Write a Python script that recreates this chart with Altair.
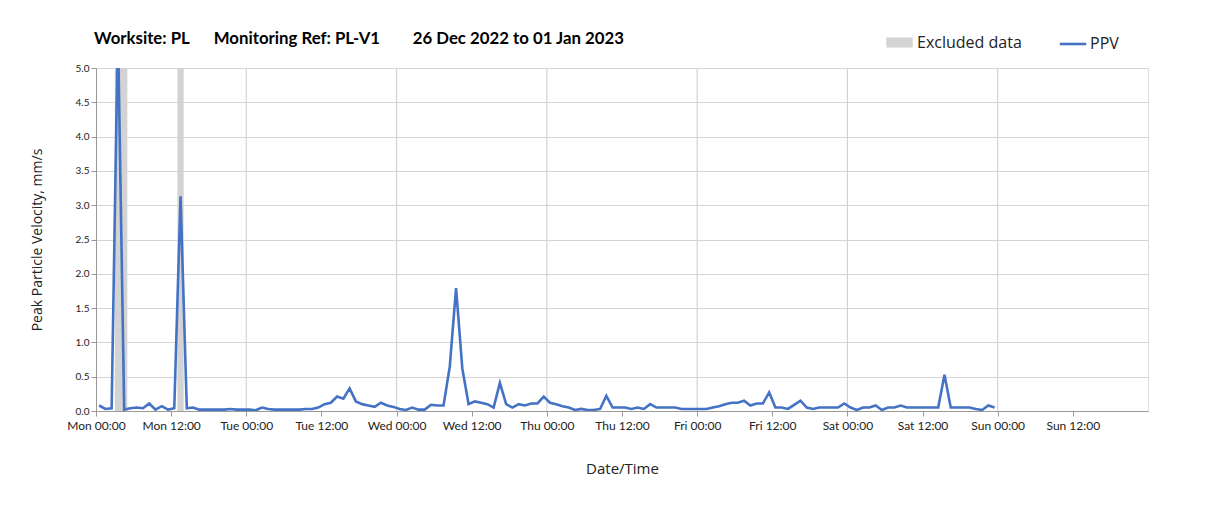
import altair as alt
import pandas as pd

# Hourly PPV readings (mm/s), first reading Mon 26 Dec 2022 00:30
ppv = [
    0.08, 0.03, 0.04, 5.6, 0.02, 0.04, 0.05, 0.04, 0.11, 0.02, 0.07, 0.02,
    0.04, 3.13, 0.04, 0.05, 0.02, 0.02, 0.02, 0.02, 0.02, 0.03, 0.02, 0.02,
    0.02, 0.01, 0.05, 0.03, 0.02, 0.02, 0.02, 0.02, 0.02, 0.03, 0.03, 0.05,
    0.10, 0.12, 0.21, 0.18, 0.33, 0.14, 0.10, 0.08, 0.06, 0.12, 0.08, 0.06,
    0.03, 0.015, 0.05, 0.02, 0.02, 0.09, 0.08, 0.08, 0.65, 1.79, 0.62, 0.10,
    0.14, 0.12, 0.10, 0.05, 0.41, 0.10, 0.05, 0.10, 0.08, 0.11, 0.11, 0.21,
    0.12, 0.10, 0.07, 0.05, 0.015, 0.03, 0.015, 0.015, 0.03, 0.22, 0.05, 0.05,
    0.05, 0.03, 0.05, 0.03, 0.10, 0.05, 0.05, 0.05, 0.05, 0.03, 0.03, 0.03,
    0.03, 0.03, 0.05, 0.07, 0.10, 0.12, 0.12, 0.15, 0.08, 0.11, 0.11, 0.27,
    0.05, 0.05, 0.03, 0.09, 0.15, 0.05, 0.03, 0.05, 0.05, 0.05, 0.05, 0.11,
    0.05, 0.015, 0.05, 0.05, 0.08, 0.015, 0.05, 0.05, 0.08, 0.05, 0.05, 0.05,
    0.05, 0.05, 0.05, 0.53, 0.05, 0.05, 0.05, 0.05, 0.03, 0.015, 0.08, 0.05,
]
times = pd.date_range("2022-12-26 00:30", periods=len(ppv), freq="h")

excluded_start = ["2022-12-26T03:00:00", "2022-12-26T13:00:00"]
excluded_end = ["2022-12-26T05:00:00", "2022-12-26T14:00:00"]

day_lines = ["2022-12-27T00:00:00", "2022-12-28T00:00:00", "2022-12-29T00:00:00",
             "2022-12-30T00:00:00", "2022-12-31T00:00:00", "2023-01-01T00:00:00"]

tick_stamps = pd.date_range("2022-12-26 00:00", "2023-01-01 12:00", freq="12h")
tick_values = [alt.DateTime(year=t.year, month=t.month, date=t.day, hours=t.hour)
               for t in tick_stamps]
x_domain = [alt.DateTime(year=2022, month=12, date=26, hours=0),
            alt.DateTime(year=2023, month=1, date=2, hours=0)]

line_df = pd.DataFrame({
    "time": [t.strftime("%Y-%m-%dT%H:%M:%S") for t in times],
    "ppv": ppv,
    "series": "PPV",
})
excl_df = pd.DataFrame({"start": excluded_start, "end": excluded_end,
                        "series": "Excluded data"})
grid_df = pd.DataFrame({"day": day_lines})

BLUE = "#4472c4"
GREY = "#d3d3d3"
FONT = "Lato"
NB = "\u00a0"

xscale = alt.Scale(domain=x_domain)
yscale = alt.Scale(domain=[0, 5], nice=False)

x_axis = alt.Axis(
    values=tick_values, format="%a %H:%M", labelFont=FONT, labelFontSize=12,
    labelColor="#222", title="Date/Time", titleFont="Open Sans", titleFontSize=15,
    titleFontWeight="normal", titleColor="#222", titlePadding=30, grid=False,
    domainColor="#9a9a9a", tickColor="#9a9a9a", tickSize=5, labelPadding=4,
    labelFlush=False, labelOverlap=False,
)
y_axis = alt.Axis(
    values=[0, 0.5, 1, 1.5, 2, 2.5, 3, 3.5, 4, 4.5, 5], format=".1f",
    labelFont=FONT, labelFontSize=10, labelColor="#222",
    title="Peak Particle Velocity, mm/s", titleFont="Open Sans", titleFontSize=14,
    titleFontWeight="normal", titleColor="#222", titlePadding=31,
    grid=True, gridColor="#d4d4d4", gridWidth=1.2,
    domainColor="#9a9a9a", tickColor="#9a9a9a", tickSize=5,
)

rects = alt.Chart(excl_df).mark_rect(opacity=1).encode(
    x=alt.X("start:T", scale=xscale, axis=x_axis),
    x2="end:T",
    y=alt.value(0),
    y2=alt.value(343),
    color=alt.Color("series:N",
                    scale=alt.Scale(domain=["Excluded data"], range=[GREY]),
                    legend=alt.Legend(
                        title=None, orient="none", legendX=790, legendY=-39,
                        symbolType="M-1,-0.38H1V0.38H-1Z", symbolSize=700,
                        symbolStrokeWidth=0, labelFont="Open Sans", labelFontSize=16,
                        labelColor="#222", padding=0, symbolOffset=0)),
)

grid = alt.Chart(grid_df).mark_rule(color="#d4d4d4", strokeWidth=1.2).encode(
    x=alt.X("day:T", scale=xscale, axis=x_axis),
)

line = alt.Chart(line_df).mark_line(strokeWidth=2.6, clip=True).encode(
    x=alt.X("time:T", scale=xscale, axis=x_axis),
    y=alt.Y("ppv:Q", scale=yscale, axis=y_axis),
    stroke=alt.Stroke("series:N",
                      scale=alt.Scale(domain=["PPV"], range=[BLUE]),
                      legend=alt.Legend(
                          title=None, orient="none", legendX=962, legendY=-39,
                          symbolType="stroke", symbolSize=700, symbolStrokeWidth=2.6,
                          labelFont="Open Sans", labelFontSize=16, labelColor="#222",
                          padding=0, labelOffset=2)),
)

title_text = ("Worksite: PL" + NB * 6 + "Monitoring Ref: PL-V1" + NB * 8
              + "26 Dec 2022 to 01 Jan 2023")

chart = alt.layer(grid, rects, line).resolve_scale(
    color="independent", stroke="independent"
).properties(
    width=1052,
    height=343,
    autosize=alt.AutoSizeParams(type="none"),
    padding={"left": 88, "top": 60, "right": 40, "bottom": 80},
    title=alt.Title(
        text=title_text,
        anchor="start", font=FONT, fontSize=16.8, fontWeight="bold", color="#000",
        offset=0, dy=19, dx=64,
    ),
).configure_view(stroke="#9a9a9a", strokeWidth=1).configure(background="white")

chart.save("out.html", embed_options={"renderer": "svg", "actions": False})
